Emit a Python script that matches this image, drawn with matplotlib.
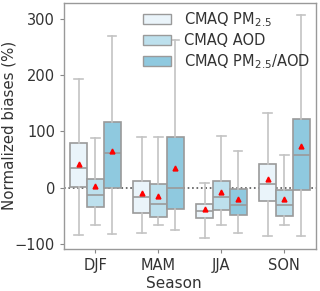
import matplotlib

matplotlib.use("Agg")
import matplotlib.pyplot as plt  # noqa: E402
from matplotlib.patches import Patch  # noqa: E402

# values (normalized biases, %)
seasons = ["DJF", "MAM", "JJA", "SON"]
series = ["CMAQ PM$_{2.5}$", "CMAQ AOD", "CMAQ PM$_{2.5}$/AOD"]
colors = ["#eaf4fa", "#bde0ed", "#8fc9df"]

# each list: one value per season
whislo = [
    [-84, -80, -88, -85],
    [-65, -66, -65, -65],
    [-82, -75, -80, -85],
]
q1 = [
    [2, -44, -53, -24],
    [-34, -51, -40, -49],
    [-1, -37, -48, -4],
]
med = [
    [36, -16, -41, 7],
    [-12, -28, -17, -30],
    [61, -1, -31, 58],
]
q3 = [
    [80, 13, -28, 43],
    [16, 7, 13, -4],
    [117, 91, -2, 122],
]
whishi = [
    [193, 91, 9, 133],
    [88, 91, 92, 58],
    [270, 262, 65, 307],
]
means = [
    [43, -9, -38, 16],
    [4, -15, -7, -19],
    [65, 35, -20, 75],
]

fig = plt.figure(figsize=(3.2, 2.91), dpi=100)
ax = fig.add_axes([0.2, 0.145, 0.787, 0.845])

edge = "#9a9a9a"
width = 0.8 / len(series)
for i, name in enumerate(series):
    stats = []
    for j in range(len(seasons)):
        stats.append(dict(whislo=whislo[i][j], q1=q1[i][j], med=med[i][j],
                          q3=q3[i][j], whishi=whishi[i][j], mean=means[i][j],
                          fliers=[]))
    pos = [j - 0.4 + width * (i + 0.5) for j in range(len(seasons))]
    ax.bxp(stats, positions=pos, widths=width, patch_artist=True,
           showmeans=True, showfliers=False,
           boxprops=dict(facecolor=colors[i], edgecolor=edge, linewidth=1.2),
           medianprops=dict(color=edge, linewidth=1.2),
           whiskerprops=dict(color="#c4c4c4", linewidth=1.2),
           capprops=dict(color="#c4c4c4", linewidth=1.2),
           meanprops=dict(marker="^", markerfacecolor="red",
                          markeredgecolor="red", markersize=3.5),
           manage_ticks=False)

ax.axhline(0, color="#555555", linestyle=":", linewidth=1.2, zorder=0.5)
ax.set_xlim(-0.5, len(seasons) - 0.5)
ax.set_ylim(-108, 328)
ax.set_xticks(range(len(seasons)))
ax.set_xticklabels(seasons)
ax.set_yticks([-100, 0, 100, 200, 300])
ax.set_xlabel("Season", fontsize=11, color="#333333")
ax.set_ylabel("Normalized biases (%)", fontsize=10.8, color="#333333")
ax.xaxis.set_label_coords(0.437, -0.112)
ax.yaxis.set_label_coords(-0.19, 0.5)
ax.tick_params(labelsize=10.5, colors="#333333", length=3, width=0.8)
ax.tick_params(color="#888888")
for s in ax.spines.values():
    s.set_color("#999999")
    s.set_linewidth(1.0)

handles = [Patch(facecolor=c, edgecolor=edge, label=n) for c, n in zip(colors, series)]
leg = ax.legend(handles=handles, loc="upper right", frameon=False, fontsize=10.5,
                handlelength=1.9, handleheight=0.7, borderaxespad=0.0,
                labelspacing=0.3, handletextpad=0.9,
                bbox_to_anchor=(1.0, 0.995))
for t in leg.get_texts():
    t.set_color("#333333")

fig.savefig("out.png", dpi=100)
